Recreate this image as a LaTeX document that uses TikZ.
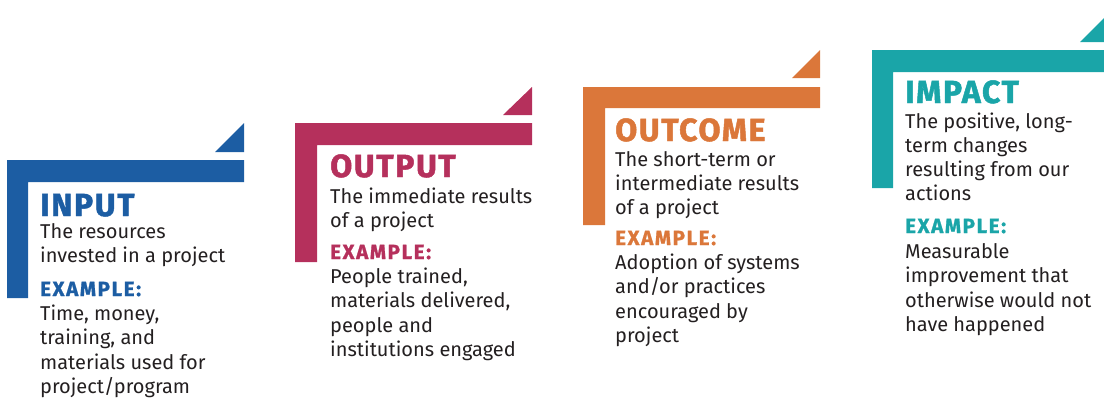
\documentclass[tikz,border=0pt]{standalone}
\usepackage{fontspec}
\setmainfont{Fira Sans}
% Heavier, wider face for headings
\newfontfamily\headfont{Fira Sans}[BoldFeatures={FakeBold=1.5, LetterSpace=5}]
\newfontfamily\labelfont{Fira Sans}[BoldFeatures={FakeBold=1, LetterSpace=8}]

\begin{document}
\begin{tikzpicture}[x=1pt, y=-1pt]
    % Colours of the four steps
    \definecolor{inputColour}{HTML}{1C5DA3}
    \definecolor{outputColour}{HTML}{B5305C}
    \definecolor{outcomeColour}{HTML}{DB773A}
    \definecolor{impactColour}{HTML}{1AA5A8}
    \definecolor{bodyColour}{HTML}{231F20}

    % Text styles (multi-line nodes sit on the baseline of their last line)
    \tikzset{
        stepTitle/.style={anchor=base west, inner sep=0pt, font=\headfont\fontsize{32}{34}\selectfont\bfseries},
        stepText/.style={anchor=base west, inner sep=0pt, align=left, text=bodyColour,
            font=\fontsize{20}{24.3}\selectfont},
        exLabel/.style={anchor=base west, inner sep=0pt, font=\labelfont\fontsize{20.5}{24}\selectfont\bfseries}
    }

    \useasboundingbox (0,0) rectangle (1104,399);
    \clip (0,0) rectangle (1104,399);

    % Draw the input step
    \fill[inputColour] (7,160) -- (244,160) -- (244,182) -- (28,182) -- (28,298) -- (7,298) -- cycle;
    \fill[inputColour] (215,152) -- (244,152) -- (244,123) -- cycle;
    \node[stepTitle, text=inputColour] (inTitle) at (40,216) {INPUT};
    \node[stepText] (inText) at (40,262.3) {The resources\\invested in a project};
    \node[exLabel, text=inputColour] (inLabel) at (40,296) {EXAMPLE:};
    \node[stepText] (inExample) at (40,393.5) {Time, money,\\training, and\\materials used for\\project/program};

    % Draw the output step
    \fill[outputColour] (295,123) -- (532,123) -- (532,145) -- (317,145) -- (317,262) -- (295,262) -- cycle;
    \fill[outputColour] (503,115) -- (532,115) -- (532,87) -- cycle;
    \node[stepTitle, text=outputColour] (outTitle) at (330,177) {OUTPUT};
    \node[stepText] (outText) at (330,227.3) {The immediate results\\of a project};
    \node[exLabel, text=outputColour] (outLabel) at (330,259) {EXAMPLE:};
    \node[stepText] (outExample) at (330,356.5) {People trained,\\materials delivered,\\people and\\institutions engaged};

    % Draw the outcome step
    \fill[outcomeColour] (583,87) -- (820,87) -- (820,108) -- (605,108) -- (605,225) -- (583,225) -- cycle;
    \fill[outcomeColour] (792,78) -- (820,78) -- (820,50) -- cycle;
    \node[stepTitle, text=outcomeColour] (ocTitle) at (615,141) {OUTCOME};
    \node[stepText] (ocText) at (615,214.6) {The short-term or\\intermediate results\\of a project};
    \node[exLabel, text=outcomeColour] (ocLabel) at (615,245) {EXAMPLE:};
    \node[stepText] (ocExample) at (615,342.5) {Adoption of systems\\and/or practices\\encouraged by\\project};

    % Draw the impact step (runs off the right edge)
    \fill[impactColour] (872,50) -- (1109,50) -- (1109,72) -- (893,72) -- (893,188) -- (872,188) -- cycle;
    \fill[impactColour] (1080,42) -- (1109,42) -- (1109,13) -- cycle;
    \node[stepTitle, text=impactColour] (imTitle) at (905,103) {IMPACT};
    \node[stepText] (imText) at (905,200.9) {The positive, long-\\term changes\\resulting from our\\actions};
    \node[exLabel, text=impactColour] (imLabel) at (905,233) {EXAMPLE:};
    \node[stepText] (imExample) at (905,331.5) {Measurable\\improvement that\\otherwise would not\\have happened};

\end{tikzpicture}
\end{document}
